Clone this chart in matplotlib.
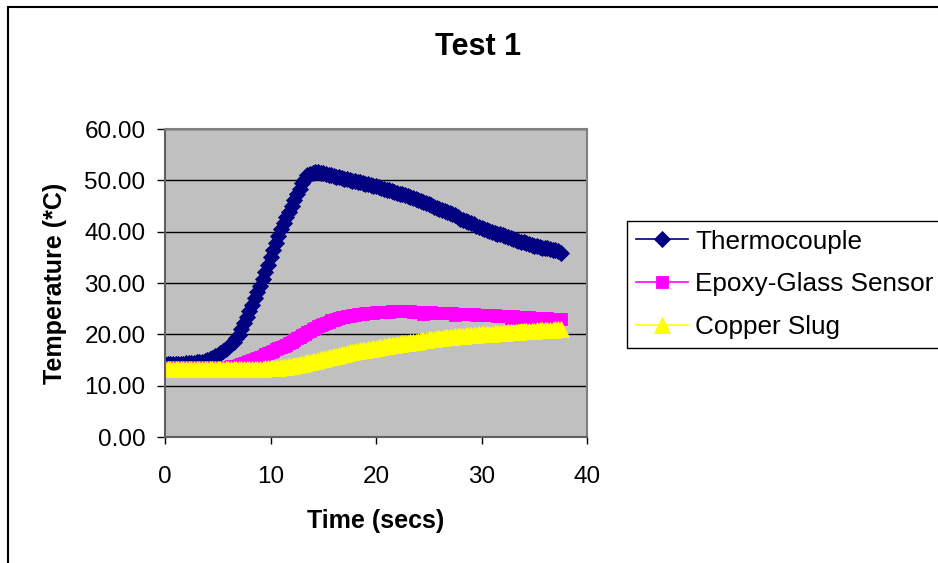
import numpy as np
import matplotlib.pyplot as plt
from matplotlib.patches import Rectangle
from matplotlib.ticker import FormatStrFormatter

# logger samples every 0.25 s
time_s = np.arange(151) * 0.25

thermocouple = [
    14.2, 14.2, 14.2, 14.3, 14.2, 14.3, 14.3, 14.3,
    14.4, 14.4, 14.5, 14.4, 14.6, 14.6, 14.7, 14.8,
    15.0, 15.1, 15.4, 15.7, 16.0, 16.3, 16.7, 17.1,
    17.6, 18.1, 18.6, 19.2, 19.9, 21.0, 22.2, 23.3,
    24.5, 25.7, 27.0, 28.2, 29.5, 30.8, 32.2, 33.6,
    35.0, 36.4, 37.8, 39.2, 40.5, 41.7, 42.8, 43.9,
    45.0, 46.2, 47.3, 48.4, 49.5, 50.3, 51.0, 51.3,
    51.5, 51.6, 51.6, 51.5, 51.4, 51.3, 51.1, 51.0,
    50.8, 50.7, 50.6, 50.4, 50.3, 50.2, 50.1, 49.9,
    49.8, 49.7, 49.6, 49.4, 49.3, 49.2, 49.1, 48.9,
    48.8, 48.7, 48.5, 48.4, 48.2, 48.1, 47.9, 47.8,
    47.6, 47.4, 47.3, 47.1, 46.9, 46.7, 46.5, 46.3,
    46.1, 45.9, 45.7, 45.5, 45.3, 45.1, 44.9, 44.7,
    44.5, 44.3, 44.1, 43.8, 43.6, 43.4, 43.2, 42.9,
    42.5, 42.3, 42.1, 41.8, 41.6, 41.4, 41.2, 41.0,
    40.8, 40.6, 40.4, 40.2, 40.0, 39.8, 39.6, 39.5,
    39.3, 39.1, 38.9, 38.8, 38.6, 38.4, 38.2, 38.0,
    37.9, 37.7, 37.6, 37.4, 37.3, 37.2, 37.0, 36.9,
    36.9, 36.8, 36.6, 36.5, 36.4, 36.2, 35.9,
]

epoxy_glass = [
    13.6, 13.6, 13.6, 13.6, 13.6, 13.6, 13.6, 13.6,
    13.6, 13.6, 13.6, 13.6, 13.6, 13.6, 13.6, 13.6,
    13.6, 13.6, 13.6, 13.6, 13.6, 13.6, 13.7, 13.7,
    13.7, 13.8, 13.8, 13.9, 14.1, 14.2, 14.4, 14.6,
    14.8, 15.0, 15.2, 15.4, 15.6, 15.8, 16.1, 16.3,
    16.6, 16.8, 17.1, 17.3, 17.6, 17.8, 18.0, 18.3,
    18.5, 18.8, 19.2, 19.5, 19.8, 20.1, 20.4, 20.7,
    21.0, 21.3, 21.6, 21.9, 22.1, 22.3, 22.5, 22.7,
    22.8, 23.0, 23.1, 23.3, 23.4, 23.5, 23.6, 23.7,
    23.8, 23.9, 23.9, 24.0, 24.1, 24.1, 24.2, 24.2,
    24.3, 24.3, 24.3, 24.4, 24.4, 24.4, 24.5, 24.5,
    24.5, 24.5, 24.5, 24.5, 24.5, 24.5, 24.4, 24.4,
    24.4, 24.4, 24.0, 24.3, 24.3, 24.3, 24.2, 24.2,
    24.2, 24.2, 24.1, 24.1, 24.1, 24.1, 23.7, 24.0,
    24.0, 24.0, 23.9, 23.9, 23.9, 23.9, 23.8, 23.8,
    23.8, 23.8, 23.7, 23.7, 23.7, 23.7, 23.6, 23.6,
    23.6, 23.6, 23.5, 23.2, 23.5, 23.4, 23.4, 23.3,
    23.3, 23.3, 23.3, 23.2, 23.2, 23.2, 23.1, 23.1,
    23.1, 23.1, 23.0, 23.0, 23.0, 22.9, 22.9,
]

copper_slug = [
    13.3, 13.3, 13.3, 13.3, 13.3, 13.3, 13.3, 13.3,
    13.3, 13.3, 13.3, 13.3, 13.3, 13.3, 13.3, 13.3,
    13.3, 13.3, 13.3, 13.3, 13.3, 13.3, 13.3, 13.3,
    13.3, 13.3, 13.3, 13.3, 13.3, 13.3, 13.3, 13.3,
    13.3, 13.3, 13.3, 13.3, 13.3, 13.3, 13.4, 13.4,
    13.4, 13.4, 13.5, 13.5, 13.6, 13.6, 13.7, 13.8,
    13.9, 14.0, 14.1, 14.2, 14.3, 14.4, 14.6, 14.7,
    14.8, 14.9, 15.0, 15.1, 15.2, 15.3, 15.5, 15.6,
    15.7, 15.8, 16.0, 16.1, 16.2, 16.3, 16.5, 16.6,
    16.7, 16.8, 16.9, 17.0, 17.0, 17.1, 17.2, 17.3,
    17.4, 17.5, 17.6, 17.7, 17.8, 17.9, 18.0, 18.0,
    18.1, 18.2, 18.3, 18.3, 18.4, 18.5, 18.6, 18.6,
    18.7, 18.8, 18.9, 18.9, 19.0, 19.1, 19.1, 19.2,
    19.2, 19.3, 19.4, 19.4, 19.5, 19.5, 19.6, 19.6,
    19.7, 19.7, 19.8, 19.8, 19.9, 19.9, 19.9, 20.0,
    20.0, 20.0, 20.1, 20.1, 20.1, 20.2, 20.2, 20.3,
    20.3, 20.3, 20.4, 20.4, 20.4, 20.5, 20.5, 20.6,
    20.6, 20.6, 20.7, 20.7, 20.7, 20.8, 20.8, 20.8,
    20.8, 20.9, 20.9, 20.9, 21.0, 21.0, 21.0,
]

series_names = ["Thermocouple", "Epoxy-Glass Sensor", "Copper Slug"]
x_ticks = [0, 10, 20, 30, 40]
y_ticks = [0, 10, 20, 30, 40, 50, 60]

plt.rcParams["font.family"] = ["Liberation Sans", "DejaVu Sans"]

fig = plt.figure(figsize=(9.38, 5.63), dpi=100)
ax = fig.add_axes([165 / 938, 1 - 437 / 563, 422 / 938, 308 / 563])
ax.set_facecolor("#c0c0c0")

styles = [
    dict(color="#000080", marker="D", ms=8.5),
    dict(color="#ff00ff", marker="s", ms=8.5),
    dict(color="#ffff00", marker="^", ms=11.0),
]
for values, name, st in zip([thermocouple, epoxy_glass, copper_slug], series_names, styles):
    ax.plot(time_s, values, color=st["color"], lw=1.2, marker=st["marker"],
            ms=st["ms"], mec=st["color"], mfc=st["color"], mew=0.6, label=name)

ax.set_xlim(0, 40)
ax.set_ylim(0, 60)
ax.set_xticks(x_ticks)
ax.set_yticks(y_ticks)
ax.yaxis.set_major_formatter(FormatStrFormatter("%.2f"))
ax.yaxis.grid(True, color="black", lw=1)
ax.set_axisbelow(True)

ax.tick_params(axis="y", direction="out", length=6, width=1, pad=8, labelsize=17.5)
ax.tick_params(axis="x", direction="out", length=5, width=1, pad=16, labelsize=17.5)

for side in ["top", "right"]:
    ax.spines[side].set_color("#808080")
    ax.spines[side].set_linewidth(1.5)
for side in ["left", "bottom"]:
    ax.spines[side].set_color("#606060")
    ax.spines[side].set_linewidth(1.5)

ax.set_xlabel("Time (secs)", fontsize=18, fontweight="bold")
ax.set_ylabel("Temperature (*C)", fontsize=18, fontweight="bold")
ax.xaxis.set_label_coords(0.5, -0.235)
ax.yaxis.set_label_coords(-0.233, 0.5)

fig.text(478 / 938, 1 - 47 / 563, "Test 1", ha="center", va="center",
         fontsize=22, fontweight="bold")

leg = fig.legend(loc="upper left", bbox_to_anchor=(627 / 938, 1 - 221 / 563),
                 borderaxespad=0, fontsize=18.8, fancybox=False, framealpha=1,
                 edgecolor="black", handlelength=2.0, handletextpad=0.28,
                 labelspacing=0.72, borderpad=0.33, numpoints=1)
leg.get_frame().set_linewidth(1.0)

# outer chart border, running past the right and bottom edges
fig.patches.append(Rectangle((8 / 938, -0.1), 1.2, 1.1 - 7 / 563, transform=fig.transFigure,
                             fill=False, edgecolor="black", lw=1.5))

fig.savefig("out.png", dpi=100)
